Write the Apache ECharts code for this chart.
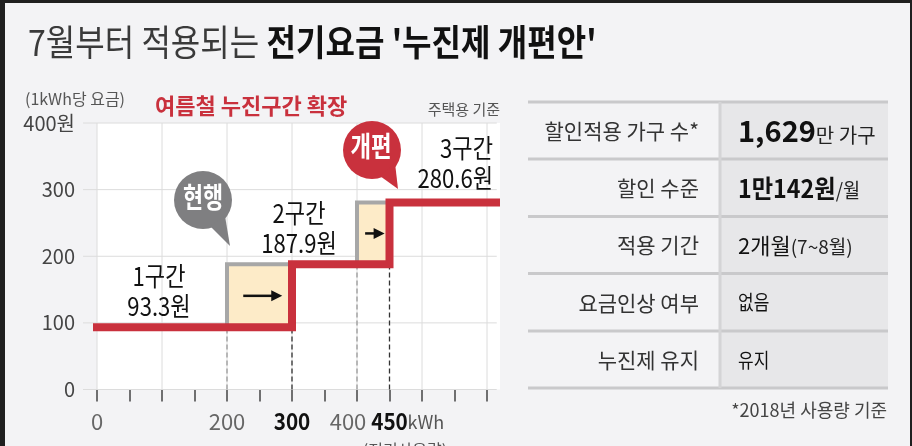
<!DOCTYPE html>
<html><head><meta charset="utf-8">
<script src="https://cdn.jsdelivr.net/npm/echarts@6/dist/echarts.min.js"></script>
<style>html,body{margin:0;padding:0;background:#f3f3f5;}#c{width:912px;height:446px;}</style>
</head><body><div id="c"></div>
<script>
// ---------- data ----------
const tierNames = ['1구간', '2구간', '3구간'];
const tierRates = [93.3, 187.9, 280.6];           // 원 / kWh
const currentBreaks = [200, 400];                 // 현행 구간 경계 (kWh)
const reformBreaks = [300, 450];                  // 개편 구간 경계 (kWh)
const yTicks = [0, 100, 200, 300, 400];
const yTickLabels = ['0', '100', '200', '300', '400원'];
const xTicks = [0, 50, 100, 150, 200, 250, 300, 350, 400, 450, 500, 550, 600];
const xGridValues = [0, 100, 200, 300, 400, 500, 600];
const xLabelValues = [0, 200, 300, 400, 450];
const xLabelTexts = ['0', '200', '300', '400', '450'];
const xLabelBold = [false, false, true, false, true];
const xUnit = 'kWh';
const tableLabels = ['할인적용 가구 수*', '할인 수준', '적용 기간', '요금인상 여부', '누진제 유지'];
const tableMain = ['1,629', '1만142원', '2개월', '없음', '유지'];
const tableUnit = ['만 가구', '/월', '(7~8월)', '', ''];

// ---------- setup ----------
const FONT = "'Noto Sans CJK KR','Noto Sans',sans-serif";
const RED = '#c9313d';
const X_MAX = 620;
const chart = echarts.init(document.getElementById('c'));
const r = tierRates;

const redData = [[-6.6, r[0]], [reformBreaks[0], r[0]], [reformBreaks[0], r[1]],
  [reformBreaks[1], r[1]], [reformBreaks[1], r[2]], [X_MAX, r[2]]];
const grayData = [[currentBreaks[0], r[0]], [currentBreaks[0], r[1]], [currentBreaks[1], r[1]],
  [currentBreaks[1], r[2]], [X_MAX, r[2]]];
const boxData = currentBreaks.map((c, i) => [c, reformBreaks[i], r[i], r[i + 1]]);
const arrowData = boxData.map(([x0, x1, y0, y1]) => [x0 + (x1 - x0) * 0.25, x1 - (x1 - x0) * 0.15, (y0 + y1) / 2]);
const guideData = [];
currentBreaks.forEach((c, i) => { guideData.push([c, r[i], 0]); guideData.push([reformBreaks[i], r[i], 1]); });
const gridData = yTicks.map(v => [0, v]).concat(xGridValues.map(v => [1, v]));

function T(x, y, text, size, o) {
  o = o || {};
  return { type: 'text', x: x, y: y, scaleX: o.sx || 1, z: o.z || 20,
    style: { text: text, fontSize: size, fontFamily: FONT, fontWeight: o.w || 'normal',
      fill: o.c || '#222', align: o.a || 'left', verticalAlign: 'middle', rich: o.rich } };
}

const graphics = [];
// frame
graphics.push({ type: 'rect', z: 100, shape: { x: 0, y: 0, width: 912, height: 3 }, style: { fill: '#1f1f1f' } });
graphics.push({ type: 'rect', z: 100, shape: { x: 0, y: 0, width: 5, height: 446 }, style: { fill: '#1f1f1f' } });
graphics.push({ type: 'rect', z: 100, shape: { x: 910, y: 0, width: 2, height: 446 }, style: { fill: '#1f1f1f' } });
// title
graphics.push(T(28, 42, "{a|7월부터 적용되는 }{b|전기요금 '누진제 개편안'}", 36, { sx: 0.89, rich: {
  a: { fontSize: 36, fontFamily: FONT, fill: '#3a3a3a', verticalAlign: 'bottom' },
  b: { fontSize: 36, fontFamily: FONT, fontWeight: 'bold', fill: '#111', verticalAlign: 'bottom' } } }));
graphics.push(T(25, 99, '(1kWh당 요금)', 16, { c: '#555' }));
graphics.push(T(155, 106, '여름철 누진구간 확장', 22, { c: RED, w: 'bold' }));
graphics.push(T(500, 109, '주택용 기준', 15, { c: '#555', a: 'right' }));
// tier labels
const tierPos = [[159, 276, 'center'], [299, 213, 'center'], [493, 148, 'right']];
tierNames.forEach((n, i) => {
  const p = tierPos[i];
  graphics.push(T(p[0], p[1], n, 26, { sx: 0.85, c: '#111', a: p[2] }));
  graphics.push(T(p[0], p[1] + 30, r[i] + '원', 26, { sx: 0.85, c: '#111', a: p[2] }));
});
// bubbles
graphics.push({ type: 'circle', z: 15, shape: { cx: 203, cy: 200, r: 29 }, style: { fill: '#7f7f81' } });
graphics.push({ type: 'polygon', z: 15, shape: { points: [[210, 226], [225, 216], [230, 246]] }, style: { fill: '#7f7f81' } });
graphics.push(T(203, 197, '현행', 28, { sx: 0.78, c: '#fff', w: 'bold', a: 'center' }));
graphics.push({ type: 'circle', z: 15, shape: { cx: 372, cy: 150, r: 29 }, style: { fill: RED } });
graphics.push({ type: 'polygon', z: 15, shape: { points: [[380, 176], [395, 163], [398, 189]] }, style: { fill: RED } });
graphics.push(T(371, 146, '개편', 28, { sx: 0.8, c: '#fff', w: 'bold', a: 'center' }));
graphics.push(T(405, 450, '(전기사용량)', 16, { c: '#555', a: 'center' }));
// table
const rowY = [102, 159, 216.5, 273.5, 331, 388];
graphics.push({ type: 'rect', z: 5, shape: { x: 721, y: 102, width: 167, height: 286 }, style: { fill: '#e7e7e9' } });
rowY.forEach(y => graphics.push({ type: 'line', z: 6, shape: { x1: 528, y1: y, x2: 888, y2: y }, style: { stroke: '#c9c9cb', lineWidth: 3 } }));
graphics.push({ type: 'line', z: 6, shape: { x1: 720, y1: 102, x2: 720, y2: 388 }, style: { stroke: '#d4d4d6', lineWidth: 3 } });
const valStyle = [
  { m: { fontSize: 29, fontWeight: 'bold' }, u: { fontSize: 20 }, sx: 1 },
  { m: { fontSize: 25, fontWeight: 'bold' }, u: { fontSize: 20 }, sx: 0.93 },
  { m: { fontSize: 22 }, u: { fontSize: 19 }, sx: 1 },
  { m: { fontSize: 20 }, u: { fontSize: 18 }, sx: 0.85 },
  { m: { fontSize: 20 }, u: { fontSize: 18 }, sx: 0.85 }
];
tableLabels.forEach((lab, i) => {
  const cy = (rowY[i] + rowY[i + 1]) / 2 + 0.5;
  graphics.push(T(699, cy, lab, 21, { c: '#333', a: 'right' }));
  const vs = valStyle[i];
  const txt = '{m|' + tableMain[i] + '}' + (tableUnit[i] ? '{u|' + tableUnit[i] + '}' : '');
  graphics.push(T(738, cy, txt, 22, { sx: vs.sx, rich: {
    m: Object.assign({ fontFamily: FONT, fill: '#111', verticalAlign: 'bottom' }, vs.m),
    u: Object.assign({ fontFamily: FONT, fill: '#222', verticalAlign: 'bottom' }, vs.u) } }));
});
graphics.push(T(887, 410, '*2018년 사용량 기준', 18, { c: '#444', a: 'right' }));

const option = {
  animation: false,
  backgroundColor: '#f3f3f5',
  grid: { left: 97, top: 123, width: 403, height: 266.5, show: true, backgroundColor: '#ffffff', borderWidth: 0 },
  xAxis: {
    type: 'value', min: 0, max: X_MAX, offset: 4,
    axisLine: { show: false }, splitLine: { show: false },
    axisTick: { show: true, customValues: xTicks, length: 12, lineStyle: { color: '#444', width: 1.5 } },
    axisLabel: { show: false }
  },
  yAxis: {
    type: 'value', min: 0, max: 400, interval: 100,
    axisLine: { show: false }, axisTick: { show: false }, splitLine: { show: false },
    axisLabel: { margin: 22, fontSize: 20, color: '#444', fontFamily: FONT, padding: [12, 0, 0, 0],
      formatter: v => yTickLabels[yTicks.indexOf(v)] }
  },
  graphic: graphics,
  series: [
    { type: 'custom', z: 1, clip: false, silent: true, data: gridData,
      renderItem: (p, api) => {
        const t = api.value(0), v = api.value(1);
        let a, b;
        if (t === 0) { a = api.coord([-21.5, v]); b = api.coord([615, v]); }
        else { a = api.coord([v, 0]); b = api.coord([v, 400]); }
        return { type: 'line', shape: { x1: a[0], y1: a[1], x2: b[0], y2: b[1] }, style: { stroke: '#dcdcdc', lineWidth: 1 } };
      } },
    { type: 'custom', z: 2, clip: false, silent: true, data: boxData,
      renderItem: (p, api) => {
        const a = api.coord([api.value(0), api.value(3)]), b = api.coord([api.value(1), api.value(2)]);
        return { type: 'rect', shape: { x: a[0], y: a[1], width: b[0] - a[0], height: b[1] - a[1] }, style: { fill: '#fdebc8' } };
      } },
    { type: 'custom', z: 3, clip: false, silent: true, data: guideData,
      renderItem: (p, api) => {
        const a = api.coord([api.value(0), 0]), b = api.coord([api.value(0), api.value(1)]);
        const dark = api.value(2) === 1;
        return { type: 'line', shape: { x1: a[0], y1: a[1], x2: b[0], y2: b[1] },
          style: { stroke: dark ? '#333' : '#9a9a9a', lineWidth: 1.3, lineDash: [5, 3] } };
      } },
    { type: 'line', z: 4, clip: false, silent: true, symbol: 'none', data: grayData,
      lineStyle: { color: '#a7a7a7', width: 4, join: 'miter', cap: 'butt' } },
    { type: 'line', z: 5, clip: false, silent: true, symbol: 'none', data: redData,
      lineStyle: { color: RED, width: 8, join: 'miter', cap: 'butt' } },
    { type: 'custom', z: 6, clip: false, silent: true, data: arrowData,
      renderItem: (p, api) => {
        const a = api.coord([api.value(0), api.value(2)]), b = api.coord([api.value(1), api.value(2)]);
        return { type: 'group', children: [
          { type: 'line', shape: { x1: a[0], y1: a[1], x2: b[0] - 9, y2: b[1] }, style: { stroke: '#111', lineWidth: 2.5 } },
          { type: 'polygon', shape: { points: [[b[0], b[1]], [b[0] - 11, b[1] - 5.5], [b[0] - 11, b[1] + 5.5]] }, style: { fill: '#111' } }
        ] };
      } }
  ]
};
chart.setOption(option);

// x-axis tick labels placed through the axis scale
const LABEL_Y = 421.5;
xLabelValues.forEach((v, i) => {
  const px = chart.convertToPixel({ gridIndex: 0 }, [v, 0])[0];
  const bold = xLabelBold[i];
  const shift = (v === 400) ? -9 : 0;
  graphics.push(T(px + shift, LABEL_Y, xLabelTexts[i], bold ? 23 : 22,
    { a: 'center', sx: bold ? 0.9 : 1, w: bold ? 'bold' : 'normal', c: bold ? '#111' : '#666' }));
  if (v === xLabelValues[xLabelValues.length - 1]) {
    graphics.push(T(px + 18, LABEL_Y + 1, xUnit, 18, { c: '#555' }));
  }
});
chart.setOption({ graphic: graphics });
</script></body></html>
